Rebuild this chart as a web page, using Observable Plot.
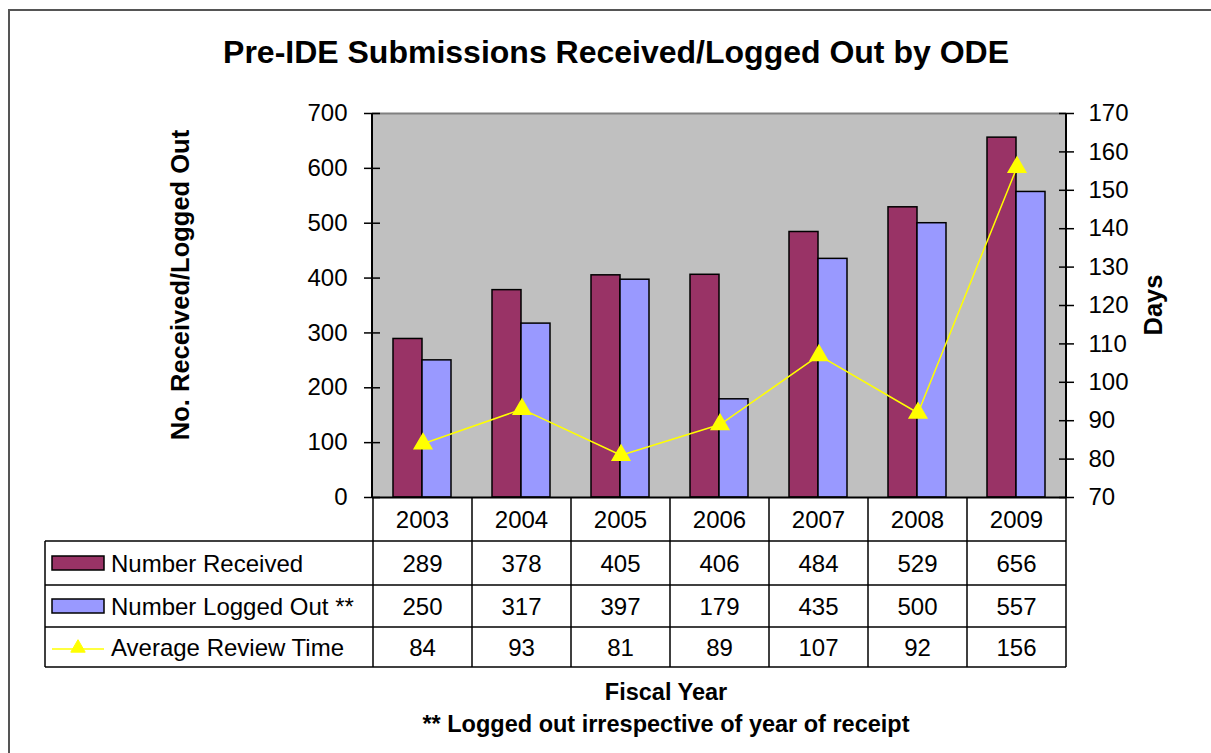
<!DOCTYPE html>
<html>
<head>
<meta charset="utf-8">
<script src="https://cdn.jsdelivr.net/npm/d3@7"></script>
<script src="https://cdn.jsdelivr.net/npm/@observablehq/plot@0.6"></script>
<style>
  html, body { margin: 0; padding: 0; background: #fff; overflow: hidden; }
  #wrap { position: relative; width: 1211px; height: 753px; }
  #frame { position: absolute; left: 8px; top: 9px; width: 1300px; height: 900px; border: 2px solid #555; box-sizing: border-box; pointer-events: none; }
  #chart { position: absolute; left: 0; top: 0; }
</style>
</head>
<body>
<div id="wrap">
  <div id="frame"></div>
  <div id="chart"></div>
</div>
<script>
const years = ["2003", "2004", "2005", "2006", "2007", "2008", "2009"];
const received = [289, 378, 405, 406, 484, 529, 656];
const loggedOut = [250, 317, 397, 179, 435, 500, 557];
const reviewDays = [84, 93, 81, 89, 107, 92, 156];
const leftTicks = [0, 100, 200, 300, 400, 500, 600, 700];
const rightTicks = [70, 80, 90, 100, 110, 120, 130, 140, 150, 160, 170];
const seriesNames = ["Number Received", "Number Logged Out **", "Average Review Time"];

const title = "Pre-IDE Submissions Received/Logged Out by ODE";
const yLabelLeft = "No. Received/Logged Out";
const yLabelRight = "Days";
const xLabel = "Fiscal Year";
const footnote = "** Logged out irrespective of year of receipt";

const colRecv = "#993366", colLog = "#9999FF", colLine = "#FFFF00";
const FONT = "'Liberation Sans', Arial, sans-serif";

// map days (70..170) onto left scale (0..700)
const dayMin = 70, dayFactor = 7;
const toLeft = d => (d - dayMin) * dayFactor;

const rows = years.map((y, i) => ({year: y, received: received[i], logged: loggedOut[i], days: reviewDays[i], daysY: toLeft(reviewDays[i])}));

const W = 1211, H = 753;
const mL = 372, mR = 145, mT = 113, mB = 256;

const plot = Plot.plot({
  width: W, height: H,
  marginLeft: mL, marginRight: mR, marginTop: mT, marginBottom: mB,
  style: {fontFamily: FONT, fontSize: "24px", color: "#000", background: "transparent", overflow: "visible"},
  x: {domain: years, padding: 0, axis: null},
  y: {domain: [0, 700], axis: null},
  marks: [
    Plot.frame({fill: "#C0C0C0", stroke: null}),
    Plot.ruleY([700], {stroke: "#808080", strokeWidth: 2}),
    Plot.barY(rows, {x: "year", y: "received", fill: colRecv, stroke: "#000", strokeWidth: 1.5, insetLeft: 20, insetRight: 50}),
    Plot.barY(rows, {x: "year", y: "logged", fill: colLog, stroke: "#000", strokeWidth: 1.5, insetLeft: 49, insetRight: 21}),
    Plot.lineY(rows, {x: "year", y: "daysY", stroke: colLine, strokeWidth: 1.5}),
    Plot.dot(rows, {x: "year", y: "daysY", symbol: "triangle", r: 6.5, fill: colLine, stroke: colLine}),
    Plot.ruleY([0], {stroke: "#000", strokeWidth: 2}),
    // left axis: crossing ticks + labels
    Plot.axisY({anchor: "left", ticks: leftTicks, tickSize: 16, dx: 8, text: null, stroke: "#000", strokeWidth: 1.5}),
    Plot.axisY({anchor: "left", ticks: leftTicks, tickSize: 0, tickPadding: 25, fontSize: 24, fill: "#000"}),
    // right axis (days)
    Plot.axisY({anchor: "right", ticks: rightTicks.map(toLeft), tickSize: 15, dx: -8, text: null, stroke: "#000", strokeWidth: 1.5}),
    Plot.axisY({anchor: "right", ticks: rightTicks.map(toLeft), tickSize: 0, tickPadding: 22, fontSize: 24, fill: "#000", tickFormat: v => String(Math.round(v / dayFactor + dayMin))})
  ]
});
document.getElementById("chart").appendChild(plot);

// Use the plot's own x scale for table alignment
const xs = plot.scale("x");
const ys = plot.scale("y");
const bw = xs.bandwidth;
const x0 = xs.range[0], x1 = xs.range[1];
const bandStart = y => (typeof xs.apply === "function") ? xs.apply(y) : x0 + years.indexOf(y) * bw;
const yTop = ys.range[1], yBot = ys.range[0];

const svg = d3.select(plot);
const g = svg.append("g").attr("font-family", FONT).attr("fill", "#000").attr("text-anchor", "start");

// plot area left/right vertical lines
g.append("line").attr("x1", x0).attr("x2", x0).attr("y1", yTop).attr("y2", yBot).attr("stroke", "#000").attr("stroke-width", 2);
g.append("line").attr("x1", x1).attr("x2", x1).attr("y1", yTop).attr("y2", yBot).attr("stroke", "#000").attr("stroke-width", 2);

// table geometry
const rowY = [yBot, 541, 585, 627, 667];
const tableLeft = 45;
const grid = g.append("g").attr("stroke", "#000").attr("stroke-width", 1.5);
rowY.slice(1).forEach(y => grid.append("line").attr("x1", tableLeft).attr("x2", x1).attr("y1", y).attr("y2", y));
grid.append("line").attr("x1", tableLeft).attr("x2", tableLeft).attr("y1", rowY[1]).attr("y2", rowY[4]);
years.forEach(y => {
  const bx = bandStart(y);
  grid.append("line").attr("x1", bx).attr("x2", bx).attr("y1", yBot).attr("y2", rowY[4]);
});
grid.append("line").attr("x1", x1).attr("x2", x1).attr("y1", yBot).attr("y2", rowY[4]);

// table texts
const rowData = [years, received, loggedOut, reviewDays];
rowData.forEach((vals, r) => {
  const cy = (rowY[r] + rowY[r + 1]) / 2;
  vals.forEach((v, i) => {
    g.append("text").attr("x", bandStart(years[i]) + bw / 2).attr("y", cy).attr("dy", "0.36em")
      .attr("text-anchor", "middle").attr("font-size", 24).text(v);
  });
});

// legend column
seriesNames.forEach((name, k) => {
  const cy = (rowY[k + 1] + rowY[k + 2]) / 2;
  if (k < 2) {
    g.append("rect").attr("x", 52).attr("y", cy - 7).attr("width", 52).attr("height", 14)
      .attr("fill", k === 0 ? colRecv : colLog).attr("stroke", "#000").attr("stroke-width", 1.5);
  } else {
    g.append("line").attr("x1", 52).attr("x2", 104).attr("y1", cy + 2).attr("y2", cy + 2).attr("stroke", colLine).attr("stroke-width", 1.5);
    g.append("path").attr("d", d3.symbol(d3.symbolTriangle, 90)()).attr("transform", `translate(78,${cy + 1})`).attr("fill", colLine).attr("stroke", colLine);
  }
  g.append("text").attr("x", 111).attr("y", cy).attr("dy", "0.36em").attr("text-anchor", "start").attr("font-size", 24).text(name);
});

// titles
g.append("text").attr("x", 616).attr("y", 63).attr("text-anchor", "middle").attr("font-size", 32).attr("font-weight", "bold").text(title);
g.append("text").attr("transform", `translate(189,${(yTop + yBot) / 2 - 20}) rotate(-90)`).attr("text-anchor", "middle")
  .attr("font-size", 25.5).attr("font-weight", "bold").text(yLabelLeft);
g.append("text").attr("transform", `translate(1162,${(yTop + yBot) / 2}) rotate(-90)`).attr("text-anchor", "middle")
  .attr("font-size", 25.5).attr("font-weight", "bold").text(yLabelRight);
g.append("text").attr("x", 666).attr("y", 700).attr("text-anchor", "middle").attr("font-size", 23.5).attr("font-weight", "bold").text(xLabel);
g.append("text").attr("x", 666).attr("y", 732).attr("text-anchor", "middle").attr("font-size", 23.5).attr("font-weight", "bold").text(footnote);
</script>
</body>
</html>
